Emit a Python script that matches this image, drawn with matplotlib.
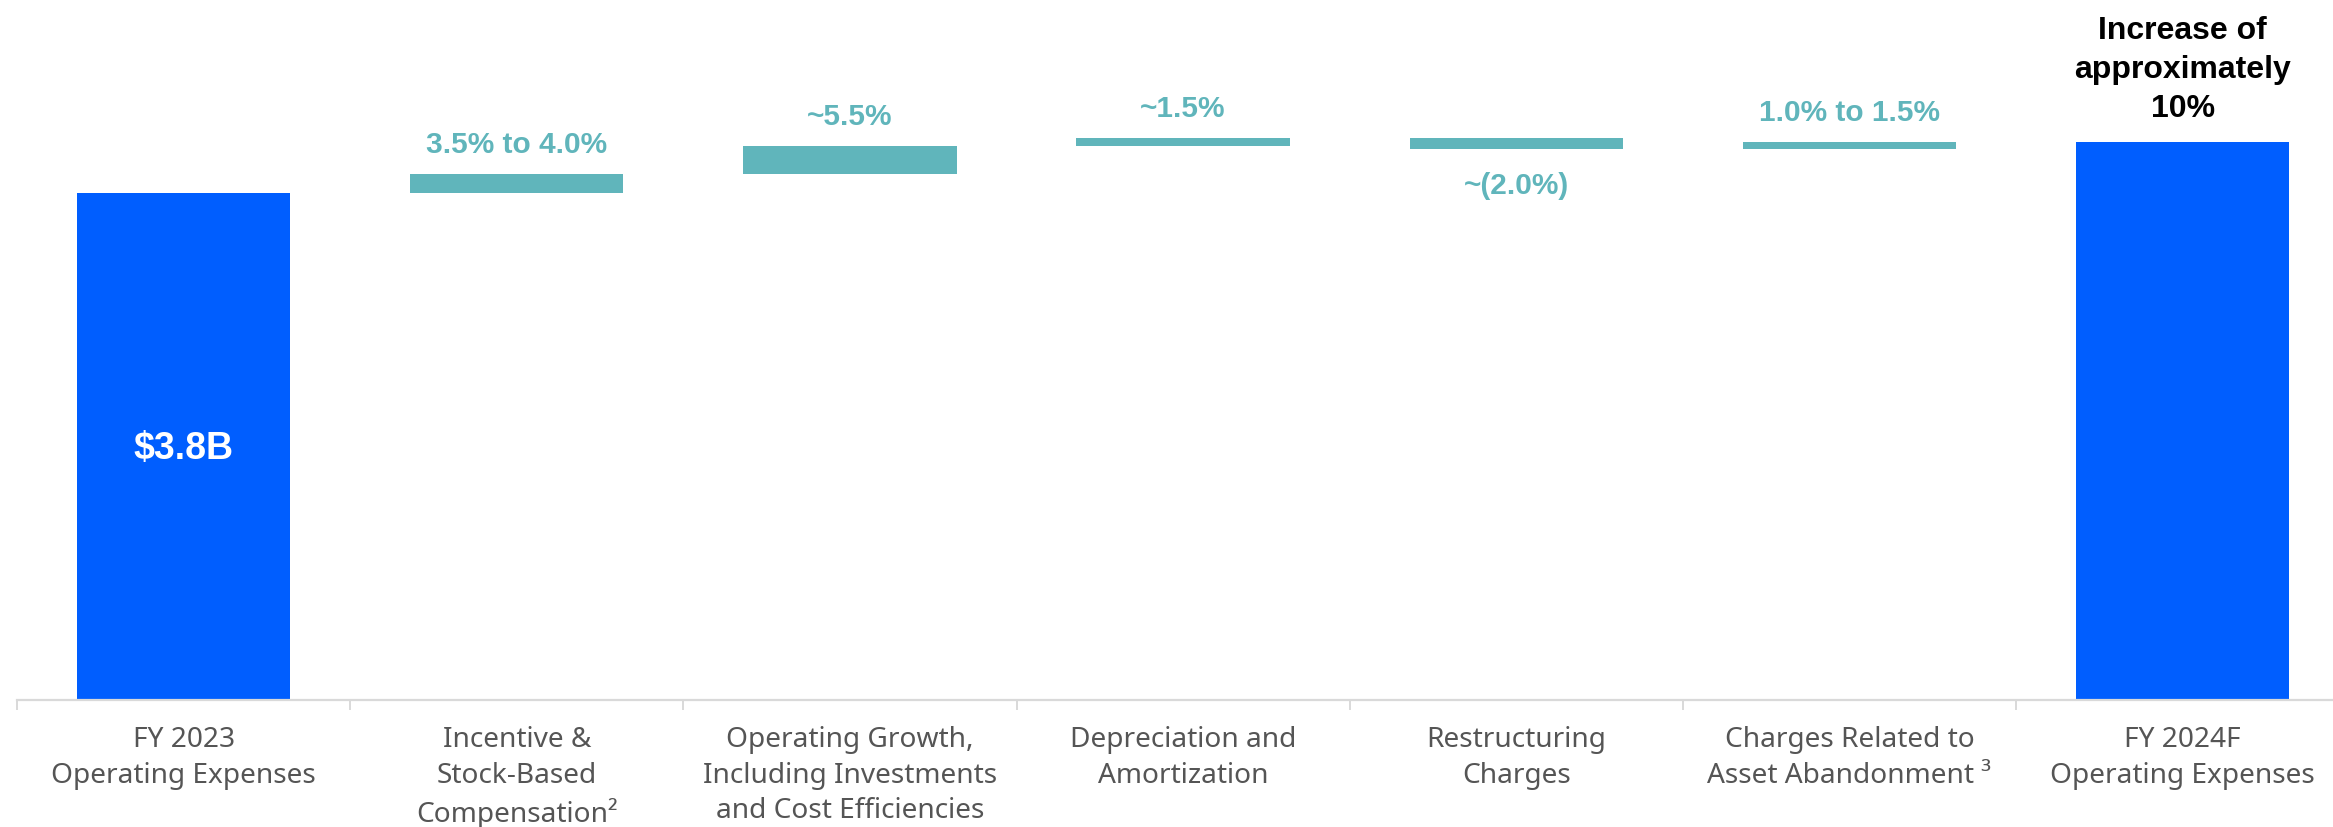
import matplotlib
matplotlib.use("Agg")
import matplotlib.pyplot as plt
import numpy as np

# ---- data -------------------------------------------------------------
categories = [
    "FY 2023\nOperating Expenses",
    "Incentive &\nStock-Based\nCompensation\u00b2",
    "Operating Growth,\nIncluding Investments\nand Cost Efficiencies",
    "Depreciation and\nAmortization",
    "Restructuring\nCharges",
    "Charges Related to\nAsset Abandonment \u00b3",
    "FY 2024F\nOperating Expenses",
]
base_value_b = 3.8                      # FY 2023 operating expenses, $B
base_label = "$3.8B"
change_pct = [3.75, 5.5, 1.5, -2.0, 1.25]   # step changes, % of FY 2023
change_labels = ["3.5% to 4.0%", "~5.5%", "~1.5%", "~(2.0%)", "1.0% to 1.5%"]
total_pct = 10.0
total_label = "Increase of\napproximately\n10%"

# ---- styling ----------------------------------------------------------
BLUE = "#005EFF"
TEAL = "#60B5BB"
GRID = "#D9D9D9"
LABEL_GRAY = "#555555"
BOLD_FONT = ["Liberation Sans", "DejaVu Sans"]
CAT_FONT = ["Noto Sans", "DejaVu Sans"]

W, H, DPI = 2333, 827, 100
fig = plt.figure(figsize=(W / DPI, H / DPI), dpi=DPI)
fig.patch.set_facecolor("white")

left_px, base_px, step_px = 17, 700, 333.17
ax = fig.add_axes([left_px / W, (H - base_px) / H, (W - left_px) / W, base_px / H])
ax.set_xlim(-0.5, -0.5 + (W - left_px) / step_px)
ax.set_ylim(0, base_value_b * base_px / 507.0)

bar_w = 0.64
x = np.arange(len(categories))

# start and end totals
end_value_b = base_value_b * (1 + total_pct / 100)
ax.bar(x[0], base_value_b, width=bar_w, color=BLUE, zorder=2)
ax.bar(x[-1], end_value_b, width=bar_w, color=BLUE, zorder=2)

# floating step bars
deltas = [base_value_b * p / 100 for p in change_pct]
running = base_value_b
for i, (d, lab) in enumerate(zip(deltas, change_labels), start=1):
    ax.bar(x[i], d, bottom=running, width=bar_w, color=TEAL, zorder=2)
    top = running + max(d, 0)
    bottom = running + min(d, 0)
    if d >= 0:
        ax.annotate(lab, xy=(x[i], top), xytext=(0, 21), textcoords="offset points",
                    ha="center", va="center", fontsize=21.5, fontweight="bold",
                    color=TEAL, family=BOLD_FONT)
    else:
        ax.annotate(lab, xy=(x[i], bottom), xytext=(0, -27), textcoords="offset points",
                    ha="center", va="center", fontsize=21.5, fontweight="bold",
                    color=TEAL, family=BOLD_FONT)
    running += d

# value inside the first bar
ax.annotate(base_label, xy=(x[0], base_value_b), xytext=(0, -184), textcoords="offset points",
            ha="center", va="center", fontsize=27, fontweight="bold",
            color="white", family=BOLD_FONT)

# summary above the final bar
ax.annotate(total_label, xy=(x[-1], end_value_b), xytext=(0, 13), textcoords="offset points",
            ha="center", va="bottom", fontsize=23, fontweight="bold",
            color="black", family=BOLD_FONT, linespacing=1.4, multialignment="center")

# axes styling
for s in ("top", "right", "left"):
    ax.spines[s].set_visible(False)
ax.spines["bottom"].set_color(GRID)
ax.spines["bottom"].set_linewidth(1.6)
ax.set_yticks([])

ax.set_xticks(x)
ax.set_xticklabels(categories)
ax.set_xticks(np.arange(-0.5, len(categories) - 0.5, 1.0), minor=True)
ax.tick_params(axis="x", which="major", length=0, pad=19)
ax.tick_params(axis="x", which="minor", length=7.5, width=1.4, color=GRID, direction="out")
for lbl in ax.get_xticklabels():
    lbl.set_fontsize(20.2)
    lbl.set_family(CAT_FONT)
    lbl.set_color(LABEL_GRAY)
    lbl.set_linespacing(1.35)
    lbl.set_multialignment("center")

fig.savefig("out.png", dpi=DPI, facecolor="white")
